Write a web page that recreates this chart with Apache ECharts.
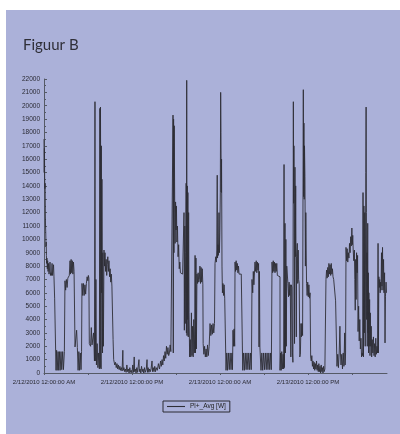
<!DOCTYPE html>
<html>
<head>
<meta charset="utf-8">
<script src="https://cdn.jsdelivr.net/npm/echarts@6/dist/echarts.min.js"></script>
<style>
html,body{margin:0;padding:0;background:#ffffff;}
#main{width:400px;height:434px;}
</style>
</head>
<body>
<div id="main"></div>
<script>
// Power readings [hour since 2/12/2010 00:00, watts]
var friNightMorning = [[0.00,17500],[0.03,15000],[0.06,16800],[0.09,14500],[0.12,13800],[0.15,14200],[0.18,12000],[0.21,11000],[0.24,10500],[0.27,9500],[0.30,9800],[0.33,8800],[0.36,8200],[0.40,8600],[0.45,7800],[0.50,8400],[0.55,7600],[0.62,8200],[0.68,7400],[0.75,7700],[0.82,8300],[0.88,7300],[0.95,7500],[1.02,7300],[1.10,8200],[1.16,7300],[1.22,7400],[1.30,8100],[1.36,7200],[1.45,5600],[1.60,5600],
[1.64,200],[1.72,1700],[1.80,200],[1.92,1600],[2.00,200],[2.10,1600],[2.20,200],[2.32,1600],[2.42,250],[2.55,1600],[2.65,250],[2.78,1600],[2.86,6900],[2.95,6200],[3.05,7000],[3.15,6400],[3.25,7100],[3.35,7200],[3.45,7300],[3.55,8400],[3.62,7400],[3.70,8500],[3.78,7500],[3.86,8400],[3.94,7400],[4.02,8300],[4.10,7600],[4.23,1950],[4.36,2000],[4.45,3200],[4.55,1900],[4.65,200],[4.75,1600],[4.85,200],[4.95,1500],[5.05,250],[5.12,1600]];
var day1Morning = [[5.18,6700],[5.28,5800],[5.38,6700],[5.48,5800],[5.58,6600],[5.68,5900],[5.78,6700],[5.88,7200],[5.98,6900],[6.05,7300],[6.12,7100],[6.18,2200],[6.35,2000],[6.45,3400],[6.55,2100],[6.65,2000],[6.75,3000],[6.82,2100],[6.88,900],[6.95,20300],[7.00,900],[7.08,7000],[7.15,600],[7.25,2200],[7.35,400],[7.45,1500],[7.55,300],[7.62,19800],[7.66,400],[7.70,19900],[7.74,12000],[7.78,300],[7.82,17000],[7.86,6000],[7.90,14500],[7.94,8500],[7.98,1500],[8.02,9000],[8.10,2000],[8.18,9200],[8.25,8000],[8.32,9000],[8.40,7600],[8.48,8500],[8.55,7300],[8.62,8100],[8.70,8700],[8.78,7600],[8.86,8400],[8.94,7200],[9.02,7800],[9.10,6800],[9.18,7400],[9.26,6500],[9.35,6400],[9.42,2500],[9.50,1000]];
var day1Afternoon = [[9.55,900],[9.65,600],[9.75,800],[9.85,400],[9.95,700],[10.05,300],[10.15,600],[10.25,250],[10.35,500],[10.45,200],[10.55,400],[10.65,150],[10.75,1700],[10.80,200],[10.90,400],[11.00,100],[11.10,300],[11.20,50],[11.30,600],[11.40,100],[11.50,300],[11.60,0],[11.70,400],[11.80,50],[11.90,200],[12.00,0],[12.10,600],[12.20,50],[12.30,1200],[12.36,100],[12.45,300],[12.55,0],[12.65,400],[12.75,50],[12.95,1000],[13.00,100],[13.10,300],[13.20,0],[13.30,500],[13.40,100],[13.50,300],[13.60,0],[13.70,400],[13.80,50],[13.95,300],[14.05,1000],[14.10,50],[14.20,400],[14.30,50],[14.40,300],[14.50,100],[14.60,300],[14.73,900],[14.80,100],[14.90,400],[15.00,100],[15.10,500],[15.20,100],[15.30,400],[15.45,200],[15.60,700],[15.75,300],[15.90,900],[16.00,500],[16.10,1000],[16.20,600],[16.30,1300],[16.40,900],[16.50,1600],[16.60,1100],[16.70,2000],[16.80,1400],[16.90,1900],[17.00,1300],[17.10,1500],[17.20,2100],[17.30,1600],[17.40,1500],[17.50,1700]];
var day1Evening = [[17.59,19300],[17.63,1500],[17.67,19000],[17.72,9000],[17.76,18500],[17.82,12900],[17.88,9700],[17.94,12800],[18.00,10700],[18.06,12500],[18.12,9800],[18.20,11000],[18.28,8700],[18.36,9600],[18.44,7800],[18.52,8300],[18.60,7500],[18.70,7600],[18.80,7400],[18.90,7500],[19.00,7400],[19.09,12000],[19.14,3200],[19.20,11000],[19.26,3700],[19.32,9000],[19.38,14200],[19.42,3000],[19.46,21900],[19.50,2800],[19.54,14000],[19.58,4000],[19.62,13500],[19.67,2700],[19.72,12000],[19.78,4500],[19.86,1200],[19.94,2500],[20.02,1200],[20.10,4500],[20.18,1300],[20.26,3500],[20.34,1200],[20.42,4000],[20.50,1500],[20.56,3500],[20.60,8800],[20.66,1500],[20.72,8600],[20.78,1800],[20.86,7400],[20.94,6700],[21.02,7500],[21.10,6800],[21.18,7000],[21.26,8000],[21.34,6700],[21.42,7900],[21.50,6800],[21.58,7800],[21.66,6600],[21.70,2200],[21.80,1400],[21.90,2000],[22.00,1200],[22.10,1800],[22.20,1200],[22.30,2100],[22.40,1300],[22.52,2000],[22.64,3700],[22.75,2800],[22.85,3600],[22.95,2900],[23.05,3700],[23.15,3000],[23.25,3700],[23.32,8200],[23.42,8700],[23.50,8300],[23.56,9200],[23.62,14800],[23.66,8600],[23.72,9600],[23.78,8800],[23.86,12000],[23.92,9000],[23.98,10500],[24.04,13500],[24.09,21000],[24.13,18000],[24.17,13500],[24.21,16000],[24.27,8000],[24.33,6000],[24.40,6700],[24.48,5800],[24.56,6600],[24.64,5600],[24.72,5600]];
var day2Night = [[24.82,200],[24.92,1500],[25.02,200],[25.14,1500],[25.26,250],[25.38,1500],[25.50,250],[25.62,1500],[25.70,250],[25.77,3200],[25.84,2000],[25.92,3300],[26.00,2000],[26.05,8300],[26.12,7600],[26.20,8400],[26.28,7700],[26.36,8200],[26.44,7500],[26.52,8000],[26.60,7400],[26.70,7500],[26.80,7400],[26.90,7300],[27.00,7300],[27.10,200],[27.20,1500],[27.32,200],[27.44,1500],[27.56,250],[27.68,1500],[27.80,250],[27.92,1500],[28.04,250],[28.16,1500],[28.26,250],[28.30,1500],[28.36,7000],[28.46,6000],[28.54,7600],[28.62,6600],[28.70,6700],[28.77,8300],[28.86,7600],[28.94,8400],[29.02,7500],[29.10,8300],[29.18,7700],[29.26,8200],[29.32,1950],[29.38,7600],[29.44,1950],[29.52,2000],[29.59,200],[29.70,1500],[29.82,200],[29.94,1500],[30.06,250],[30.18,1500],[30.30,250],[30.42,1500],[30.54,250],[30.66,1500],[30.78,250],[30.90,1500],[31.00,250],[31.09,8300],[31.18,7500],[31.26,8400],[31.34,7600],[31.42,8300],[31.50,7500],[31.58,8200],[31.66,7600],[31.74,8200],[31.82,7300],[31.90,7200],[32.05,7200]];
var day2Morning = [[32.18,200],[32.26,1500],[32.34,200],[32.42,1600],[32.50,300],[32.60,1400],[32.68,300],[32.73,15600],[32.78,400],[32.86,11200],[32.92,1500],[32.98,10000],[33.04,2000],[33.10,8000],[33.18,8000],[33.26,6700],[33.34,5700],[33.42,6800],[33.50,5800],[33.58,6600],[33.66,1200],[33.72,6600],[33.80,6400],[33.88,1500],[33.94,800],[34.00,20300],[34.04,12700],[34.08,17000],[34.12,12700],[34.16,2200],[34.22,15400],[34.27,8700],[34.32,14000],[34.36,8700],[34.40,2700],[34.44,8700],[34.54,9700],[34.60,6700],[34.66,9200],[34.72,7000],[34.80,6700],[34.88,1200],[34.96,1400],[35.04,3700],[35.10,2700],[35.18,3700],[35.26,2800],[35.36,21200],[35.40,13200],[35.44,18700],[35.48,13000],[35.52,17000],[35.58,14700],[35.64,8000],[35.70,12000],[35.80,6700],[35.88,5800],[35.96,6800],[36.04,5700],[36.12,6600],[36.20,5600],[36.28,6000],[36.36,1200],[36.44,900],[36.52,1300],[36.60,500],[36.68,900],[36.76,300],[36.84,800],[36.92,200],[37.00,700],[37.08,300],[37.16,900],[37.24,200],[37.32,600],[37.40,100],[37.48,700],[37.56,100],[37.64,500],[37.72,0],[37.80,600],[37.88,100],[37.96,400],[38.04,0],[38.12,500],[38.20,100],[38.30,300]];
var day2Evening = [[38.45,7000],[38.53,7700],[38.61,7100],[38.69,7900],[38.77,7200],[38.85,8200],[38.93,7400],[39.01,8100],[39.09,7300],[39.17,8200],[39.25,7400],[39.33,7800],[39.41,7200],[39.50,7000],[39.60,7100],[39.70,7000],[39.76,5400],[39.88,5500],[39.95,500],[40.05,1400],[40.15,400],[40.25,1500],[40.35,3500],[40.42,1500],[40.50,600],[40.60,1400],[40.70,300],[40.80,1500],[40.90,500],[41.00,3000],[41.06,600],[41.12,1500],[41.18,9400],[41.26,8400],[41.34,9300],[41.42,8300],[41.50,9000],[41.58,8600],[41.66,9700],[41.74,9000],[41.82,10200],[41.90,9500],[41.98,10850],[42.04,9600],[42.10,10300],[42.16,9200],[42.24,8400],[42.32,9200],[42.38,7000],[42.44,4700],[42.50,8500],[42.56,5500],[42.62,9000],[42.70,7500],[42.76,8800],[42.82,3100],[42.90,5000],[42.98,2400],[43.06,4000],[43.14,1800],[43.22,2600],[43.30,1200],[43.38,1500],[43.45,1300],[43.50,13500],[43.56,1200],[43.62,12500],[43.68,3000],[43.74,12000],[43.80,2000],[43.88,15000],[43.92,19900],[43.96,12000],[44.00,4000],[44.04,9000],[44.08,2000],[44.14,11200],[44.18,3000],[44.22,7500],[44.26,1500],[44.30,6000],[44.34,2000],[44.40,5500],[44.45,1300],[44.50,4500],[44.56,2000],[44.62,3500],[44.68,1200],[44.76,2500],[44.84,1500],[44.92,2700],[45.00,1300],[45.08,2200],[45.16,1200],[45.24,2600],[45.32,1400],[45.40,2000],[45.48,1500],[45.55,9700],[45.60,1500],[45.66,7200],[45.72,6400],[45.78,7000],[45.84,6000],[45.90,6800],[45.96,6200],[46.02,9000],[46.08,6500],[46.16,9400],[46.22,6200],[46.30,8500],[46.36,6000],[46.44,7500],[46.50,2250],[46.56,5700],[46.64,6800],[46.70,6000]];

var xTickHours = [0, 12, 24, 36];
var xTickLabels = ['2/12/2010 12:00:00 AM', '2/12/2010 12:00:00 PM', '2/13/2010 12:00:00 AM', '2/13/2010 12:00:00 PM'];
var seriesName = 'Pl+_Avg [W]';
var titleText = 'Figuur B';

var powerData = [].concat(friNightMorning, day1Morning, day1Afternoon, day1Evening, day2Night, day2Morning, day2Evening);

var chart = echarts.init(document.getElementById('main'), null, {renderer: 'canvas'});
chart.setOption({
  animation: false,
  backgroundColor: '#ffffff',
  graphic: [{
    type: 'rect', z: -10, silent: true,
    shape: {x: 6, y: 10, width: 394, height: 424},
    style: {fill: '#abb1d9'}
  }],
  title: {
    text: titleText, left: 18, top: 33,
    textStyle: {fontFamily: 'Lato', fontSize: 15, fontWeight: 'normal', color: '#2f2f38'}
  },
  grid: {left: 44, right: 13, top: 79, bottom: 61},
  legend: {
    data: [{name: seriesName, icon: 'path://M0,0H20V1.2H0Z'}], left: 163, top: 401,
    padding: [2, 4, 2, 4], itemWidth: 18, itemHeight: 6, itemGap: 4,
    borderColor: '#2a2a33', borderWidth: 1,
    textStyle: {fontFamily: 'Liberation Sans', fontSize: 6.5, color: '#222'}
  },
  xAxis: {
    type: 'value', min: 0, max: 46.77, interval: 6,
    splitLine: {show: false},
    axisLine: {lineStyle: {color: '#555a66', width: 1}},
    axisTick: {show: true, length: 2, lineStyle: {color: '#555a66'}},
    axisLabel: {
      fontFamily: 'Liberation Sans', fontSize: 6, color: '#2a2a33', margin: 6,
      showMaxLabel: false,
      formatter: function (v) {
        var i = xTickHours.indexOf(Math.round(v * 100) / 100);
        return i >= 0 ? xTickLabels[i] : '';
      }
    }
  },
  yAxis: {
    type: 'value', min: 0, max: 22000, interval: 1000,
    splitLine: {show: false},
    axisLine: {show: true, lineStyle: {color: '#555a66', width: 1}},
    axisTick: {show: true, inside: true, length: 3, lineStyle: {color: '#555a66'}},
    minorTick: {show: true, splitNumber: 2, length: 2, lineStyle: {color: '#555a66'}},
    axisLabel: {
      fontFamily: 'Liberation Sans', fontSize: 6.5, color: '#2a2a33', margin: 4,
      formatter: function (v) { return String(v); }
    }
  },
  series: [{
    name: seriesName, type: 'line', step: 'end',
    data: powerData, symbol: 'none', showSymbol: false,
    lineStyle: {color: '#2e2e36', width: 0.9},
    itemStyle: {color: '#2e2e36'}
  }]
});
</script>
</body>
</html>
